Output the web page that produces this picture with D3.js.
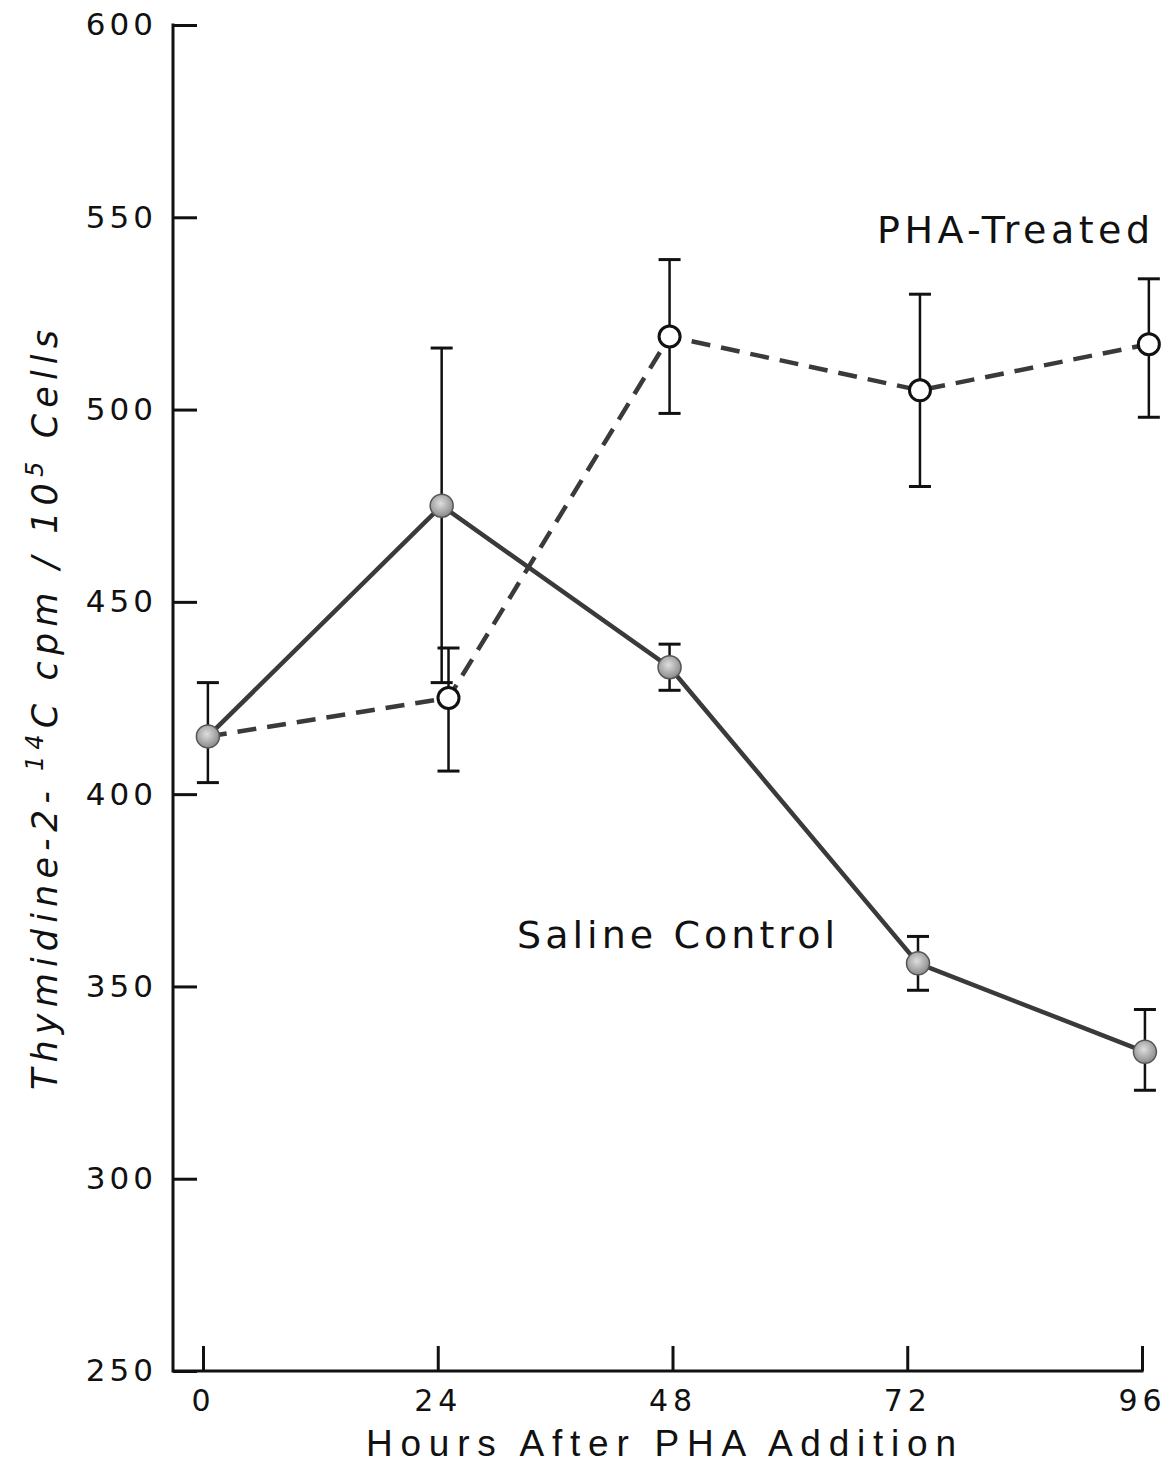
<!DOCTYPE html>
<html>
<head>
<meta charset="utf-8">
<script src="https://cdn.jsdelivr.net/npm/d3@7"></script>
<style>
  body { margin: 0; background: #fff; }
  text { fill: #111; }
</style>
</head>
<body>
<div id="chart"></div>
<script>
// tick labels on the hour axis
const hourTicks = [0, 24, 48, 72, 96];
const yTicks = [250, 300, 350, 400, 450, 500, 550, 600];

// saline control (filled circles, solid line)
const salineHours = [0.5, 24.4, 47.7, 73.1, 96.3];
const salineMean = [415, 475, 433, 356, 333];
const salineLow = [403, 429, 427, 349, 323];
const salineHigh = [429, 516, 439, 363, 344];

// PHA treated (open circles, dashed line); first point shares the saline start
const phaHours = [0.5, 25.1, 47.7, 73.3, 96.7];
const phaMean = [415, 425, 519, 505, 517];
const phaLow = [null, 406, 499, 480, 498];
const phaHigh = [null, 438, 539, 530, 534];

const width = 1176, height = 1479;
const axisX = 173;

const x = d3.scaleLinear().domain([0, 96]).range([203, 1142]);
const y = d3.scaleLinear().domain([250, 600]).range([1371, 25]);

const svg = d3.select('#chart').append('svg')
  .attr('width', width).attr('height', height)
  .style('font-family', '"DejaVu Sans", sans-serif');

const defs = svg.append('defs');
const grad = defs.append('radialGradient').attr('id', 'dot')
  .attr('cx', '45%').attr('cy', '40%').attr('r', '60%');
grad.append('stop').attr('offset', '0%').attr('stop-color', '#dedede');
grad.append('stop').attr('offset', '100%').attr('stop-color', '#8a8a8a');

// y axis, ticks pointing inward
const yAxis = svg.append('g')
  .attr('transform', `translate(${axisX},0)`)
  .call(d3.axisLeft(y).tickValues(yTicks).tickSizeInner(-24).tickSizeOuter(0).tickPadding(16));
yAxis.select('.domain').remove();
yAxis.selectAll('.tick line').attr('stroke', '#111').attr('stroke-width', 3);
yAxis.selectAll('.tick text')
  .attr('font-size', 31).attr('letter-spacing', 4).attr('fill', '#111')
  .attr('font-family', '"DejaVu Sans", sans-serif');
svg.append('line')
  .attr('x1', axisX).attr('x2', axisX).attr('y1', y(600) - 1.5).attr('y2', y(250) + 1.5)
  .attr('stroke', '#111').attr('stroke-width', 3);

// x axis, ticks pointing up
const xAxis = svg.append('g')
  .attr('transform', `translate(0,${y(250)})`)
  .call(d3.axisBottom(x).tickValues(hourTicks).tickSizeInner(-25).tickSizeOuter(0).tickPadding(19));
xAxis.select('.domain').remove();
xAxis.selectAll('.tick line').attr('stroke', '#111').attr('stroke-width', 3);
xAxis.selectAll('.tick text')
  .attr('font-size', 30).attr('letter-spacing', 5).attr('fill', '#111')
  .attr('font-family', '"DejaVu Sans", sans-serif');
svg.append('line')
  .attr('x1', axisX).attr('x2', x(96) + 1.5).attr('y1', y(250)).attr('y2', y(250))
  .attr('stroke', '#111').attr('stroke-width', 3);

// axis titles
svg.append('text')
  .attr('x', 366).attr('y', 1456)
  .attr('font-family', '"Liberation Sans Narrow", "Liberation Sans", sans-serif')
  .attr('font-size', 37)
  .attr('textLength', 590).attr('lengthAdjust', 'spacing')
  .text('Hours After PHA Addition');

const yTitle = svg.append('text')
  .attr('transform', 'translate(57,1090) rotate(-90)')
  .attr('font-size', 35).attr('font-style', 'italic')
  .attr('textLength', 760).attr('lengthAdjust', 'spacing');
yTitle.append('tspan').text('Thymidine-2-');
yTitle.append('tspan').attr('font-size', 24).attr('dy', -14).text(' 14');
yTitle.append('tspan').attr('dy', 14).text('C   cpm / 10');
yTitle.append('tspan').attr('font-size', 24).attr('dy', -14).text('5');
yTitle.append('tspan').attr('dy', 14).text(' Cells');

// series labels
svg.append('text').attr('x', 877).attr('y', 243)
  .attr('font-size', 38).attr('textLength', 273).attr('lengthAdjust', 'spacing')
  .text('PHA-Treated');
svg.append('text').attr('x', 517).attr('y', 948)
  .attr('font-size', 38).attr('textLength', 318).attr('lengthAdjust', 'spacing')
  .text('Saline Control');

const saline = salineHours.map((h, i) => ({ h, m: salineMean[i], lo: salineLow[i], hi: salineHigh[i] }));
const pha = phaHours.map((h, i) => ({ h, m: phaMean[i], lo: phaLow[i], hi: phaHigh[i] }));

const line = d3.line().x(d => x(d.h)).y(d => y(d.m));

svg.append('path').datum(pha).attr('d', line)
  .attr('fill', 'none').attr('stroke', '#3a3a3a').attr('stroke-width', 4.5)
  .attr('stroke-dasharray', '19 11');
svg.append('path').datum(saline).attr('d', line)
  .attr('fill', 'none').attr('stroke', '#3a3a3a').attr('stroke-width', 4.5);

// error bars
function errorBars(data) {
  const g = svg.append('g').selectAll('g')
    .data(data.filter(d => d.lo != null))
    .enter().append('g');
  g.append('line')
    .attr('x1', d => x(d.h)).attr('x2', d => x(d.h))
    .attr('y1', d => y(d.hi)).attr('y2', d => y(d.lo))
    .attr('stroke', '#111').attr('stroke-width', 2.5);
  g.selectAll('.cap').data(d => [{ h: d.h, v: d.hi }, { h: d.h, v: d.lo }])
    .enter().append('line')
    .attr('x1', d => x(d.h) - 11).attr('x2', d => x(d.h) + 11)
    .attr('y1', d => y(d.v)).attr('y2', d => y(d.v))
    .attr('stroke', '#111').attr('stroke-width', 3);
}
errorBars(saline);
errorBars(pha);

svg.append('g').selectAll('circle')
  .data(pha.slice(1)).enter().append('circle')
  .attr('cx', d => x(d.h)).attr('cy', d => y(d.m)).attr('r', 10.5)
  .attr('fill', '#fff').attr('stroke', '#111').attr('stroke-width', 3);

svg.append('g').selectAll('circle')
  .data(saline).enter().append('circle')
  .attr('cx', d => x(d.h)).attr('cy', d => y(d.m)).attr('r', 11.5)
  .attr('fill', 'url(#dot)').attr('stroke', '#555').attr('stroke-width', 1.5);
</script>
</body>
</html>
